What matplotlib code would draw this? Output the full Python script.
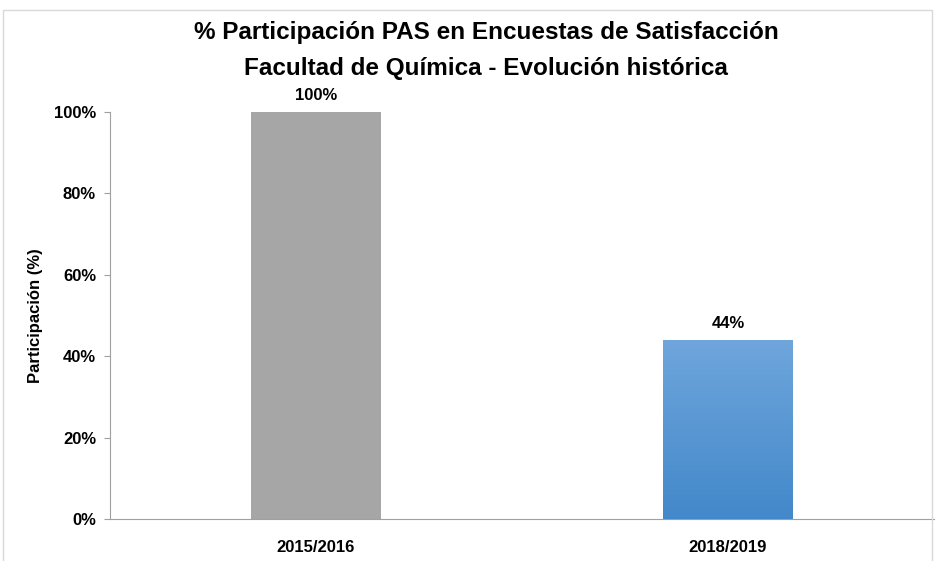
import matplotlib
matplotlib.use('Agg')

import numpy as np
import matplotlib.pyplot as plt
from matplotlib.patches import Rectangle
from matplotlib.ticker import PercentFormatter
from matplotlib.colors import LinearSegmentedColormap

categories = ['2015/2016', '2018/2019']
values = [1.00, 0.44]
labels = ['100%', '44%']
title_lines = ['% Participación PAS en Encuestas de Satisfacción',
               'Facultad de Química - Evolución histórica']
ylabel = 'Participación (%)'

plt.rcParams['font.family'] = ['Liberation Sans Narrow', 'Liberation Sans', 'DejaVu Sans']
plt.rcParams['font.weight'] = 'bold'

fig = plt.figure(figsize=(9.37, 5.61), dpi=100)
ax = fig.add_axes([110/937, 42/561, 824/937, 407/561])

# figure frame
fig.patches.append(Rectangle((3/937, -0.05), 929/937, 1.05 - 10/561, transform=fig.transFigure,
                             fill=False, edgecolor='#d9d9d9', linewidth=1))

x = np.arange(len(categories))
bars = ax.bar(x, values, width=0.315, color=['#a6a6a6', '#4f94d4'], zorder=2)

# vertical gradient on the second bar
b = bars[1]
grad = np.linspace(0, 1, 256).reshape(-1, 1)
cmap = LinearSegmentedColormap.from_list('g', ['#4388ca', '#6fa6dc'])
im = ax.imshow(grad, cmap=cmap, aspect='auto', origin='lower',
               extent=[b.get_x(), b.get_x() + b.get_width(), 0, b.get_height()], zorder=3)
im.set_clip_path(b)

for xi, v, lab in zip(x, values, labels):
    ax.text(xi, v + 0.022, lab, ha='center', va='bottom', fontsize=12, fontweight='bold')

ax.set_xlim(-0.5, 1.5)
ax.set_ylim(0, 1.0)
ax.set_yticks(np.arange(0, 1.01, 0.2))
ax.yaxis.set_major_formatter(PercentFormatter(1.0, decimals=0))
ax.set_xticks(x)
ax.set_xticklabels(categories)
ax.tick_params(axis='x', length=0, pad=15, labelsize=12)
ax.tick_params(axis='y', length=4, color='#a0a0a0', labelsize=12, pad=6)

for s in ['top', 'right']:
    ax.spines[s].set_visible(False)
for s in ['left', 'bottom']:
    ax.spines[s].set_color('#a0a0a0')

ax.set_ylabel(ylabel, fontsize=12, fontweight='bold', labelpad=8)

fig.text(486/937, 1 - 32/561, title_lines[0], ha='center', va='center', fontsize=17.5, fontweight='bold')
fig.text(486/937, 1 - 68/561, title_lines[1], ha='center', va='center', fontsize=17.5, fontweight='bold')

plt.savefig('out.png', dpi=100)
